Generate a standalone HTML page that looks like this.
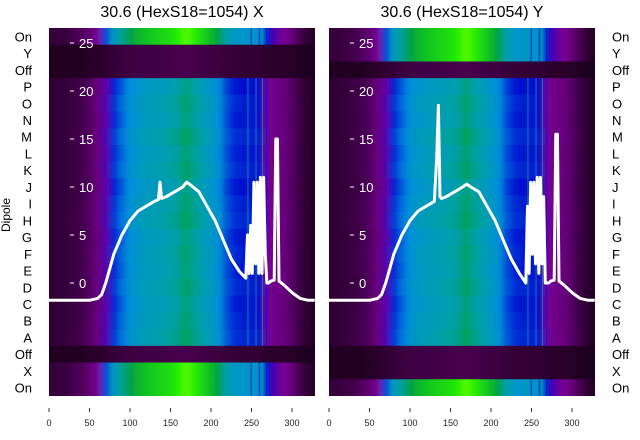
<!DOCTYPE html>
<html><head><meta charset="utf-8"><style>
body{margin:0;background:#fff;width:640px;height:440px;overflow:hidden}
svg{display:block;font-family:"Liberation Sans","DejaVu Sans",sans-serif}
</style></head><body>
<svg id="c" width="640" height="440" viewBox="0 0 640 440">
<defs>
<filter id="bl" x="-20%" y="-5%" width="140%" height="110%"><feGaussianBlur stdDeviation="3 0" edgeMode="duplicate"/></filter>
<clipPath id="cpL"><rect x="49" y="28" width="266" height="368"/></clipPath>
<clipPath id="cpR"><rect x="329" y="28" width="266" height="368"/></clipPath>
</defs>
<text x="182" y="17" font-size="16" text-anchor="middle">30.6 (HexS18=1054) X</text>
<text x="462" y="17" font-size="16" text-anchor="middle">30.6 (HexS18=1054) Y</text>
<text transform="translate(10,215) rotate(-90)" font-size="12" text-anchor="middle">Dipole</text>
<g id="L"></g><g id="R"></g><g id="labels"></g>
</svg>
<script>
const rowLabels=["On","Y","Off","P","O","N","M","L","K","J","I","H","G","F","E","D","C","B","A","Off","X","On"];
const rowTypesX=["on","off","off","a","a","a","a","a","a","a","a","a","a","a","a","a","a","a","a","off","on","on"];
const rowTypesY=["on","on","off","a","a","a","a","a","a","a","a","a","a","a","a","a","a","a","a","off","off","on"];
const rowFactor=[1,1,1,0.97,1,0.98,1.02,0.99,1.01,0.97,1,1.02,0.98,1,0.99,1.01,0.98,1,1.02,1,1,1];
const binX=[0,10,20,30,40,50,60,70,80,90,100,110,120,130,140,150,160,170,180,190,200,210,220,230,240,250,260,270,280,290,300,310,320];
const profile=[0.05,0.05,0.06,0.08,0.1,0.14,0.22,0.33,0.42,0.47,0.52,0.55,0.57,0.58,0.59,0.6,0.62,0.66,0.62,0.59,0.56,0.52,0.45,0.42,0.41,0.41,0.4,0.3,0.25,0.22,0.16,0.08,0.03];
const streaksX=[245,249,255,259,263,268];
const lineXsX=[0,50,60,65,70,75,80,90,100,110,120,130,135,137,139,145,155,165,170,175,185,195,205,215,225,235,243,245,247,249,251,253,255,257,259,261,263,265,267,269,271,274,278,280,282,284,290,300,310,320,328];
const lineYsX=[-1.8,-1.8,-1.6,-1.2,0,1.5,3,5,6.5,7.5,8,8.5,8.7,10.5,8.8,9,9.5,10,10.5,10.2,9.5,8,6.5,4.5,2.5,1.2,0.5,5,1,6,1,10.5,2,10.5,1,11,1,11,3,0,0,0.2,0.3,15,15,0.2,-0.2,-1,-1.6,-1.8,-1.8];
const lineXsY=[0,50,60,65,70,75,80,90,100,110,120,130,133,135,137,139,145,155,165,170,175,185,195,205,215,225,235,243,245,247,249,251,253,255,257,259,261,263,265,267,269,271,274,278,280,282,284,290,300,310,320,328];
const lineYsY=[-1.8,-1.8,-1.6,-1.2,0,1.5,3,5,6.5,7.5,8,8.5,13,18.5,9,8.8,9,9.5,10,10.3,10,9.5,8,6.5,4.5,2.5,1,0,8,1,10.5,3,10.5,2,11,1,11,2,9,0,0,0,0.2,0.3,15.5,15.5,0.2,-0.2,-1,-1.6,-1.8,-1.8];
const xTicks=[0,50,100,150,200,250,300];
const yTicks=[0,5,10,15,20,25];

const NS="http://www.w3.org/2000/svg";
function mk(tag,attrs,parent){const e=document.createElementNS(NS,tag);for(const k in attrs)e.setAttribute(k,attrs[k]);parent.appendChild(e);return e;}
const stops=[[0,[32,0,32]],[0.2,[100,0,120]],[0.3,[122,0,150]],[0.4,[0,16,208]],[0.5,[0,140,224]],[0.6,[0,160,170]],[0.7,[0,160,60]],[0.82,[40,240,0]],[0.92,[120,255,0]],[1,[150,255,0]]];
const offStops=[[0,[30,0,30]],[0.06,[48,0,50]],[0.1,[70,0,76]]];
function cmap(v,st){v=Math.max(0,Math.min(st[st.length-1][0],v));for(let i=1;i<st.length;i++){if(v<=st[i][0]){const a=st[i-1],b=st[i];const t=(v-a[0])/(b[0]-a[0]);const c=a[1].map((x,j)=>Math.round(x+(b[1][j]-x)*t));return `rgb(${c})`;}}const c=st[st.length-1][1];return `rgb(${c})`;}
const rowH=368/22, top0=28;
function panel(gid,x0,types,lxs,lys,clip,name){
  const g=document.getElementById(gid);
  const sx=v=>x0+v*0.81, sy=v=>283-v*9.6;
  const hm=mk('g',{'clip-path':`url(#${clip})`},g);
  
  
  mk('rect',{x:x0,y:28,width:266,height:368,fill:'#200020'},hm);
  const inner=mk('g',{filter:'url(#bl)'},hm);
  types.forEach((t,r)=>{
    binX.forEach((bx,i)=>{
      let v=profile[i]*rowFactor[r],col;
      if(t==='on')col=cmap(v*1.32,stops);
      else if(t==='off')col=cmap(v*0.16,offStops);
      else col=cmap(v,stops);
      const cell=mk('rect',{x:sx(bx)-4.5,y:top0+r*rowH,width:9,height:rowH+0.3,fill:col},inner);
      
      
    });
  });
  types.forEach((t,r)=>{
    if(t==='off')return;
    streaksX.forEach((s,k)=>{
      const st=mk('rect',{x:sx(s),y:top0+r*rowH,width:1,height:rowH,fill:k%2?'#0a10e0':'#00a080',opacity:0.85},hm);
      
      
    });
  });
  const pts=lxs.map((x,i)=>sx(x).toFixed(1)+','+sy(lys[i]).toFixed(1)).join(' ');
  const pl=mk('polyline',{points:pts,fill:'none',stroke:'#fff','stroke-width':3,'stroke-linejoin':'round'},hm);
  
  
  yTicks.forEach(v=>{
    const y=sy(v);
    const tk=mk('line',{x1:x0+21,x2:x0+25,y1:y,y2:y,stroke:'#fff','stroke-width':1},g);
    
    
    const tl=mk('text',{x:x0+30,y:y+5,'font-size':13,fill:'#fff'},g);
    tl.textContent=v;
    
    
  });
  xTicks.forEach(v=>{
    const x=sx(v);
    const tk=mk('line',{x1:x,x2:x,y1:408,y2:412,stroke:'#000','stroke-width':0.8},g);
    
    
    const tl=mk('text',{x:x,y:426,'font-size':9,'text-anchor':'middle',fill:'#222'},g);
    tl.textContent=v;
    
    
  });
}
panel('L',49,rowTypesX,lineXsX,lineYsX,'cpL','left-panel');
panel('R',329,rowTypesY,lineXsY,lineYsY,'cpR','right-panel');
const lg=document.getElementById('labels');
rowLabels.forEach((l,r)=>{
  const y=top0+(r+0.5)*rowH+5;
  const a=mk('text',{x:32,y:y,'font-size':13,'text-anchor':'end'},lg);
  a.textContent=l;
  
  
  const b=mk('text',{x:612,y:y,'font-size':13},lg);
  b.textContent=l;
  
  
});
</script>
</body></html>
